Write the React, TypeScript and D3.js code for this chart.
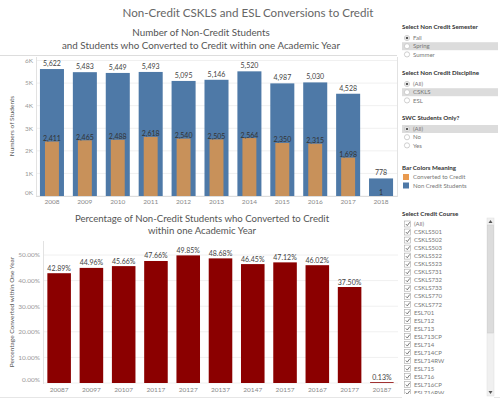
import React from 'react';
import * as d3 from 'd3';

// chart data
const years = ['2008', '2009', '2010', '2011', '2012', '2013', '2014', '2015', '2016', '2017', '2018'];
const nonCreditStudents = [5622, 5483, 5449, 5493, 5095, 5146, 5520, 4987, 5030, 4528, 778];
const convertedStudents = [2411, 2465, 2488, 2618, 2540, 2505, 2564, 2350, 2315, 1698, 1];
const pctYears = ['20087', '20097', '20107', '20117', '20127', '20137', '20147', '20157', '20167', '20177', '20187'];
const pctConverted = [42.89, 44.96, 45.66, 47.66, 49.85, 48.68, 46.45, 47.12, 46.02, 37.5, 0.13];
const countTicks = [0, 1000, 2000, 3000, 4000, 5000, 6000];
const pctTicks = [0, 10, 20, 30, 40, 50];

const semesterOptions = ['Fall', 'Spring', 'Summer'];
const disciplineOptions = ['(All)', 'CSKLS', 'ESL'];
const swcOptions = ['(All)', 'No', 'Yes'];
const legendItems = ['Converted to Credit', 'Non Credit Students'];
const courseOptions = [
  '(All)', 'CSKLS501', 'CSKLS502', 'CSKLS503', 'CSKLS522', 'CSKLS523', 'CSKLS731', 'CSKLS732',
  'CSKLS733', 'CSKLS770', 'CSKLS772', 'ESL701', 'ESL712', 'ESL713', 'ESL713CP', 'ESL714',
  'ESL714CP', 'ESL714RW', 'ESL715', 'ESL716', 'ESL716CP', 'ESL716RW',
];

const BLUE = '#4e79a7';
const ORANGE = '#c8915a';
const RED = '#8b0000';
const FONT = 'Lato, "Open Sans", sans-serif';
const fmt = d3.format(',');

function RadioGroup({ title, options, y, selected, highlighted }) {
  return (
    <g>
      <text x={402} y={y} fontSize={6.2} fontWeight="bold" fill="#333">{title}</text>
      {options.map((o, i) => {
        const cy = y + 9 + i * 8.2;
        return (
          <g key={o}>
            {i === highlighted && <rect x={402} y={cy - 4} width={96} height={8} fill="#dcdcdc" />}
            <circle cx={407} cy={cy} r={2.6} fill="#fff" stroke="#bbb" strokeWidth={0.7} />
            {i === selected && <circle cx={407} cy={cy} r={1.3} fill="#555" />}
            <text x={413} y={cy + 2.2} fontSize={6} fill="#777">{o}</text>
          </g>
        );
      })}
    </g>
  );
}

export default function App() {
  // top chart: counts
  const x1 = d3.scaleBand().domain(years).range([35.5, 397.5]).paddingInner(0.27).paddingOuter(0.135);
  const y1 = d3.scaleLinear().domain([0, 6000]).range([196, 60.5]);
  const innerW = x1.bandwidth() * 0.58;

  // bottom chart: percentages
  const x2 = d3.scaleBand().domain(pctYears).range([43, 398]).paddingInner(0.27).paddingOuter(0.135);
  const y2 = d3.scaleLinear().domain([0, 50]).range([383, 255]);

  return (
    <svg width={500} height={400} style={{ position: 'absolute', left: 0, top: 0, background: '#fff' }} fontFamily={FONT}>
      {/* titles */}
      <text x={248} y={17} textAnchor="middle" fontSize={11.6} fill="#666">Non-Credit CSKLS and ESL Conversions to Credit</text>
      <text x={201} y={36} textAnchor="middle" fontSize={9.8} fill="#555">Number of Non-Credit Students</text>
      <text x={201} y={49} textAnchor="middle" fontSize={9.8} fill="#555">and Students who Converted to Credit within one Academic Year</text>
      <line x1={0} x2={397} y1={55.5} y2={55.5} stroke="#ddd" />

      {/* top chart grid and axes */}
      {countTicks.map(t => (
        <g key={t}>
          <line x1={36} x2={397} y1={y1(t)} y2={y1(t)} stroke="#f0f0f0" />
          <text x={33} y={Math.min(y1(t), 193) + 2.3} textAnchor="end" fontSize={6.5} fill="#999">{t / 1000}K</text>
        </g>
      ))}
      <line x1={36.5} x2={36.5} y1={57} y2={197} stroke="#e2e2e2" />
      <line x1={397.5} x2={397.5} y1={57} y2={197} stroke="#e2e2e2" />
      <text transform="translate(14,126) rotate(-90)" textAnchor="middle" fontSize={6.5} fill="#555">Numbers of Students</text>

      {years.map((yr, i) => {
        const x = x1(yr);
        const cx = x + x1.bandwidth() / 2;
        const v = nonCreditStudents[i];
        const c = convertedStudents[i];
        return (
          <g key={yr}>
            <rect x={x} y={y1(v)} width={x1.bandwidth()} height={y1(0) - y1(v)} fill={BLUE} />
            <rect x={cx - innerW / 2} y={y1(c)} width={innerW} height={y1(0) - y1(c)} fill={ORANGE} />
            <text x={cx} y={y1(v) - 3} textAnchor="middle" fontSize={7} fill="#444">{fmt(v)}</text>
            <text x={cx} y={y1(c) - 0.5} textAnchor="middle" fontSize={7} fill="#333">{fmt(c)}</text>
            <text x={cx} y={203.5} textAnchor="middle" fontSize={6.5} fill="#888">{yr}</text>
          </g>
        );
      })}
      <line x1={36} x2={397} y1={196.5} y2={196.5} stroke="#ddd" />

      {/* bottom chart */}
      <text x={202} y={222} textAnchor="middle" fontSize={9.6} fill="#555">Percentage of Non-Credit Students who Converted to Credit</text>
      <text x={202} y={234} textAnchor="middle" fontSize={9.6} fill="#555">within one Academic Year</text>
      {pctTicks.map(t => (
        <g key={t}>
          <line x1={43} x2={398} y1={y2(t)} y2={y2(t)} stroke="#f0f0f0" />
          <text x={40} y={Math.min(y2(t), 380) + 2.3} textAnchor="end" fontSize={6.5} fill="#999">{t.toFixed(2)}%</text>
        </g>
      ))}
      <line x1={43.5} x2={43.5} y1={241} y2={384} stroke="#e2e2e2" />
      <text transform="translate(14,312) rotate(-90)" textAnchor="middle" fontSize={6.5} fill="#555">Percentage Converted within One Year</text>
      {pctYears.map((yr, i) => {
        const x = x2(yr);
        const cx = x + x2.bandwidth() / 2;
        const p = pctConverted[i];
        const h = Math.max(y2(0) - y2(p), 0.8);
        return (
          <g key={yr}>
            <rect x={x} y={y2(0) - h} width={x2.bandwidth()} height={h} fill={RED} />
            <text x={cx} y={y2(p) - 2.5} textAnchor="middle" fontSize={7} fill="#444">{p.toFixed(2)}%</text>
            <text x={cx} y={391.5} textAnchor="middle" fontSize={6.5} fill="#888">{yr}</text>
          </g>
        );
      })}
      <line x1={0} x2={500} y1={397.5} y2={397.5} stroke="#e6e6e6" />

      {/* right side filters */}
      <RadioGroup title="Select Non Credit Semester" options={semesterOptions} y={29} selected={0} highlighted={1} />
      <RadioGroup title="Select Non Credit Discipline" options={disciplineOptions} y={75} selected={0} highlighted={1} />
      <RadioGroup title="SWC Students Only?" options={swcOptions} y={120} selected={0} highlighted={0} />

      <text x={402} y={170} fontSize={6.2} fontWeight="bold" fill="#333">Bar Colors Meaning</text>
      {legendItems.map((l, i) => (
        <g key={l}>
          <rect x={403} y={174 + i * 8.5} width={6} height={6} fill={i === 0 ? '#e99a4f' : BLUE} />
          <text x={413} y={179.3 + i * 8.5} fontSize={6} fill="#777">{l}</text>
        </g>
      ))}

      <text x={402} y={216} fontSize={6.2} fontWeight="bold" fill="#333">Select Credit Course</text>
      {courseOptions.map((c, i) => {
        const cy = 224 + i * 8.03;
        return (
          <g key={c}>
            <rect x={404.5} y={cy - 3} width={6} height={6} fill="#fff" stroke="#aaa" strokeWidth={0.6} />
            <path d={`M405.8,${cy} L407.3,${cy + 1.6} L409.8,${cy - 1.8}`} fill="none" stroke="#555" strokeWidth={0.8} />
            <text x={414} y={cy + 2.2} fontSize={6} fill="#777">{c}</text>
          </g>
        );
      })}
      <rect x={402} y={394} width={92} height={6} fill="#fff" />
      <rect x={487} y={218} width={7} height={178} fill="#f0f0f0" stroke="#ddd" strokeWidth={0.5} />
      <rect x={487.5} y={225} width={6} height={108} fill="#dcdcdc" stroke="#c8c8c8" strokeWidth={0.5} />
      <path d="M488.5,223 L490.5,220 L492.5,223 Z" fill="#555" />
      <path d="M488.5,391 L490.5,394 L492.5,391 Z" fill="#555" />
    </svg>
  );
}
